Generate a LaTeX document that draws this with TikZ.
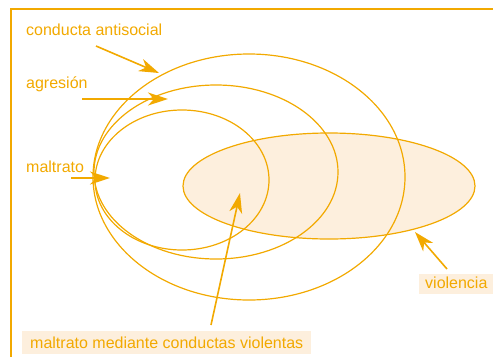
\documentclass[tikz,border=0pt]{standalone}
\usepackage{fontspec}
\setmainfont{Liberation Sans}
\usetikzlibrary{arrows.meta}
\definecolor{amber}{HTML}{F2A900}
\definecolor{cream}{HTML}{FDEFDD}
\tikzset{
	ring/.style={draw=amber,line width=1.2pt},
	pointer/.style={draw=amber,line width=1.6pt,-{Stealth[length=20pt,width=13pt,inset=6pt]}},
	lbl/.style={text=amber,inner sep=0pt,anchor=base west,font=\fontsize{16}{19}\selectfont},
	tag/.style={lbl,fill=cream,text depth=0pt}
}
\begin{document}
\begin{tikzpicture}[x=1pt,y=-1pt]
		\useasboundingbox (0,0) rectangle (493,357);
		\draw[amber,line width=1.3pt] (493,9) -- (11,9) -- (11,357);
		% violencia, filled below the other rings
		\fill[cream] (329,186) ellipse [x radius=146pt, y radius=53pt];
		\draw[ring] (329,186) ellipse [x radius=146pt, y radius=53pt];
		\draw[ring] (249,177) ellipse [x radius=156pt, y radius=123pt];
		\draw[ring] (216,172) ellipse [x radius=122pt, y radius=87pt];
		\draw[ring] (182,180) ellipse [x radius=87pt, y radius=70pt];
		% labels
		\node[lbl] (antisocial) at (26,35) {conducta antisocial};
		\node[lbl] (agresion) at (26,88) {agresión};
		\node[lbl] (maltrato) at (26,172) {maltrato};
		\node[tag,inner xsep=8pt,inner ysep=5.5pt,text height=12pt] (mediante) at (22,348) {maltrato mediante conductas violentas};
		\node[tag,inner xsep=6pt,inner ysep=3pt,text height=11pt,text depth=3pt] (violencia) at (419,288) {violencia};
		% arrows
		\coordinate (tail1) at (96,46);
		\coordinate (head1) at (159,73);
		\coordinate (tail2) at (82,99);
		\coordinate (head2) at (168,99);
		\coordinate (tail3) at (71,178);
		\coordinate (head3) at (110,178);
		\coordinate (tail4) at (211,325);
		\coordinate (head4) at (240,193);
		\coordinate (tail5) at (447,269);
		\coordinate (head5) at (415,232);
		\draw[pointer] (tail1) -- (head1);
		\draw[pointer] (tail2) -- (head2);
		\draw[pointer] (tail3) -- (head3);
		\draw[pointer] (tail4) -- (head4);
		\draw[pointer] (tail5) -- (head5);
\end{tikzpicture}
\end{document}
